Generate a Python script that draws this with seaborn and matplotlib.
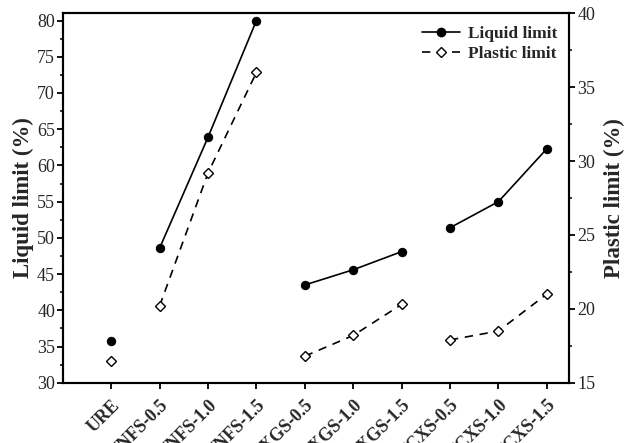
import matplotlib
matplotlib.use("Agg")
import matplotlib.pyplot as plt
import seaborn as sns
import pandas as pd
from matplotlib.ticker import MultipleLocator
from matplotlib.lines import Line2D

# --- DATA ---
samples = ["URE", "UNFS-0.5", "UNFS-1.0", "UNFS-1.5",
           "UXGS-0.5", "UXGS-1.0", "UXGS-1.5",
           "UCXS-0.5", "UCXS-1.0", "UCXS-1.5"]
groups = ["URE", "NFS", "NFS", "NFS", "XGS", "XGS", "XGS", "CXS", "CXS", "CXS"]
liquid_limit = [35.7, 48.6, 63.9, 80.0, 43.5, 45.6, 48.1, 51.4, 55.0, 62.3]
plastic_limit = [16.5, 20.2, 29.2, 36.0, 16.8, 18.2, 20.3, 17.9, 18.5, 21.0]

df = pd.DataFrame({
    "pos": list(range(len(samples))),
    "sample": samples,
    "group": groups,
    "liquid": liquid_limit,
    "plastic": plastic_limit,
})

sns.set_theme(style="ticks")
plt.rcParams["font.family"] = ["Liberation Serif", "DejaVu Serif"]
plt.rcParams["axes.linewidth"] = 1.5

fig = plt.figure(figsize=(6.24, 4.43), dpi=100)
ax = fig.add_axes([0.1015, 0.136, 0.8105, 0.834])
ax2 = ax.twinx()

dash = (0, (5, 4))

sns.lineplot(data=df, x="pos", y="liquid", units="group", estimator=None,
             color="black", lw=1.2, marker="o", markersize=6,
             markeredgecolor="black", ax=ax)
sns.lineplot(data=df, x="pos", y="plastic", units="group", estimator=None,
             color="black", lw=1.2, marker="D", markersize=5.5,
             markerfacecolor="white", markeredgecolor="black", markeredgewidth=1.0,
             ax=ax2)
for line in ax2.get_lines():
    line.set_linestyle(dash)

ax.set_xlim(-0.99, 9.46)
ax.set_ylim(30, 81)
ax2.set_ylim(15, 40)

ax.set_xticks(df["pos"])
ax.set_xticklabels(samples, rotation=45, ha="right", va="top",
                   rotation_mode="anchor", fontweight="bold", fontsize=11.5)

ax.yaxis.set_major_locator(MultipleLocator(5))
ax.yaxis.set_minor_locator(MultipleLocator(2.5))
ax2.yaxis.set_major_locator(MultipleLocator(5))
ax2.yaxis.set_minor_locator(MultipleLocator(2.5))

for a in (ax, ax2):
    a.tick_params(which="major", length=4, width=1.3, labelsize=13, color="black", pad=2)
    a.tick_params(which="minor", length=2.5, width=1.1, color="black")
    for s in a.spines.values():
        s.set_linewidth(1.5)
        s.set_color("black")
ax.tick_params(axis="x", which="minor", bottom=False)
ax.tick_params(axis="x", which="major", pad=6)

ax.set_xlabel("")
ax.set_ylabel("Liquid limit (%)", fontsize=16.5, fontweight="bold", labelpad=2)
ax2.set_ylabel("Plastic limit (%)", fontsize=16.5, fontweight="bold", labelpad=6)

handles = [
    Line2D([], [], color="black", lw=1.2, marker="o", markersize=6),
    Line2D([], [], color="black", lw=1.2, ls=dash, marker="D", markersize=5.5,
           markerfacecolor="white", markeredgewidth=1.0),
]
ax.legend(handles, ["Liquid limit", "Plastic limit"], loc="upper right",
          frameon=False, prop={"weight": "bold", "size": 12.5},
          handlelength=2.2, handletextpad=0.45, borderaxespad=0.3, labelspacing=0.25)

fig.savefig("out.png", dpi=100)
